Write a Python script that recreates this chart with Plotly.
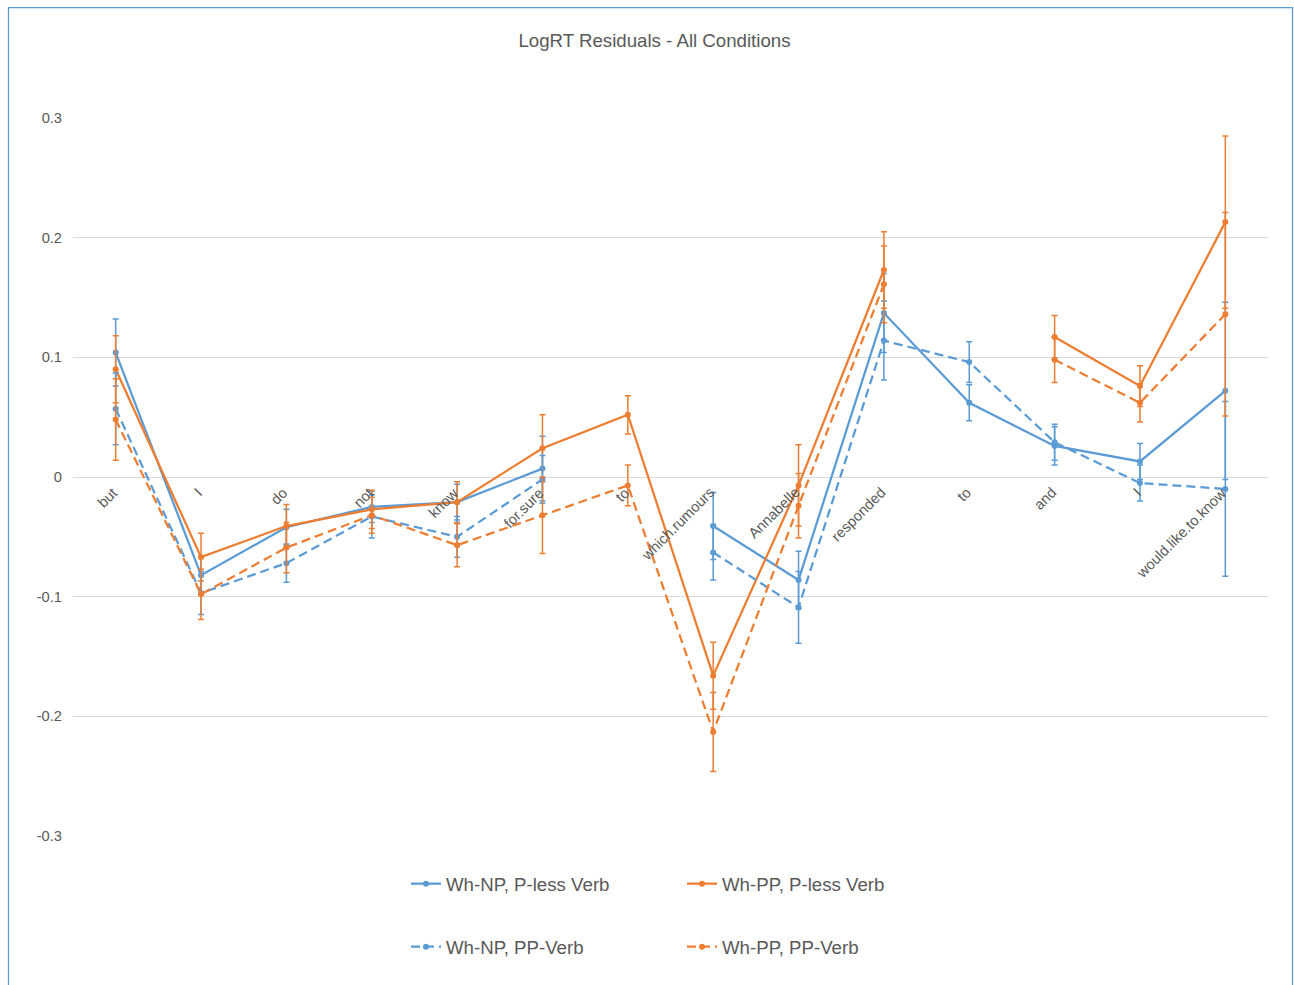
import plotly.graph_objects as go

# Word regions along the sentence
regions = ["but", "I", "do", "not", "know", "for.sure", "to", "which.rumours",
           "Annabelle", "responded", "to", "and", "I", "would.like.to.know"]

# Mean log-RT residuals per condition (None = region not present)
np_pless = [0.104, -0.082, -0.042, -0.025, -0.021, 0.007, None, -0.041,
            -0.086, 0.137, 0.062, 0.026, 0.013, 0.072]
pp_pless = [0.090, -0.067, -0.041, -0.027, -0.021, 0.024, 0.052, -0.166,
            -0.007, 0.173, None, 0.117, 0.076, 0.213]
np_ppverb = [0.057, -0.097, -0.072, -0.033, -0.050, -0.002, None, -0.063,
             -0.109, 0.114, 0.096, 0.029, -0.005, -0.010]
pp_ppverb = [0.048, -0.098, -0.059, -0.032, -0.057, -0.032, -0.007, -0.213,
             -0.024, 0.161, None, 0.098, 0.062, 0.136]

# Standard errors
np_pless_se = [0.028, 0.016, 0.015, 0.013, 0.015, 0.027, None, 0.028,
               0.024, 0.033, 0.015, 0.016, 0.015, 0.074]
pp_pless_se = [0.028, 0.020, 0.018, 0.016, 0.017, 0.028, 0.016, 0.028,
               0.034, 0.032, None, 0.018, 0.017, 0.072]
np_ppverb_se = [0.030, 0.018, 0.016, 0.018, 0.017, 0.020, None, 0.023,
                0.030, 0.033, 0.017, 0.015, 0.015, 0.073]
pp_ppverb_se = [0.034, 0.021, 0.021, 0.015, 0.018, 0.032, 0.017, 0.033,
                0.027, 0.032, None, 0.019, 0.016, 0.085]

y_ticks = [-0.3, -0.2, -0.1, 0, 0.1, 0.2, 0.3]
y_tick_labels = ["-0.3", "-0.2", "-0.1", "0", "0.1", "0.2", "0.3"]

BLUE = "#5B9BD5"
ORANGE = "#ED7D31"
TEXT = "#595959"
FONT = "Liberation Sans, Arial, sans-serif"

W, H = 1294, 985
ML, MR, MT, MB = 73, 26, 118, 149
PW, PH = W - ML - MR, H - MT - MB

xs = list(range(len(regions)))

DASH = "9px,5px"
series = [
    ("Wh-NP, P-less Verb", np_pless, np_pless_se, BLUE, "solid", "legend"),
    ("Wh-PP, P-less Verb", pp_pless, pp_pless_se, ORANGE, "solid", "legend"),
    ("Wh-NP, PP-Verb", np_ppverb, np_ppverb_se, BLUE, DASH, "legend2"),
    ("Wh-PP, PP-Verb", pp_ppverb, pp_ppverb_se, ORANGE, DASH, "legend2"),
]

fig = go.Figure()
for name, vals, se, color, dash, leg in series:
    fig.add_trace(go.Scatter(
        x=xs, y=vals, name=name, mode="lines+markers",
        line=dict(color=color, width=2.25, dash=dash),
        marker=dict(color=color, size=6),
        error_y=dict(type="data", array=[e if e is not None else 0 for e in se],
                     color=color, thickness=1.5, width=3),
        connectgaps=False, legend=leg,
    ))

# Rotated region labels sitting just under the zero line
for i, lab in enumerate(regions):
    fig.add_annotation(
        x=i, y=0, xref="x", yref="y", text=lab, showarrow=False,
        textangle=-45, xanchor="right", yanchor="top",
        xshift=7, yshift=-5,
        font=dict(family=FONT, size=14.67, color=TEXT),
    )

def px_to_paper_x(px):
    return (px - ML) / PW

def px_to_paper_y(py):
    return (H - MB - py) / PH

# Chart frame
fig.add_shape(
    type="rect", xref="paper", yref="paper",
    x0=px_to_paper_x(8.5), x1=px_to_paper_x(1292.5),
    y0=px_to_paper_y(1000), y1=px_to_paper_y(7.5),
    line=dict(color=BLUE, width=1.25), fillcolor="rgba(0,0,0,0)", layer="below",
)

legend_common = dict(
    orientation="h", xanchor="left", yanchor="middle",
    font=dict(family=FONT, size=18.67, color=TEXT),
    entrywidth=231, entrywidthmode="pixels",
    bgcolor="rgba(0,0,0,0)", borderwidth=0,
    itemclick=False, itemdoubleclick=False,
)

fig.update_layout(
    width=W, height=H,
    margin=dict(l=ML, r=MR, t=MT, b=MB),
    paper_bgcolor="white", plot_bgcolor="white",
    title=dict(text="LogRT Residuals - All Conditions",
               x=654.5 / W, xref="container", xanchor="center",
               y=1 - 40 / H, yref="container", yanchor="middle",
               font=dict(family=FONT, size=18.67, color=TEXT)),
    xaxis=dict(range=[-0.5, len(regions) - 0.5], showticklabels=False,
               showgrid=False, zeroline=False, showline=False, ticks=""),
    yaxis=dict(range=[-0.3, 0.3], tickvals=y_ticks, ticktext=y_tick_labels,
               showgrid=True, gridcolor="#D9D9D9", gridwidth=1,
               zeroline=True, zerolinecolor="#D9D9D9", zerolinewidth=1,
               showline=False, ticks="", ticklabelstandoff=10,
               tickfont=dict(family=FONT, size=14.67, color=TEXT)),
    legend=dict(x=px_to_paper_x(406), y=px_to_paper_y(884), **legend_common),
    legend2=dict(x=px_to_paper_x(406), y=px_to_paper_y(947), **legend_common),
    showlegend=True,
)

fig.write_html("out.html")
